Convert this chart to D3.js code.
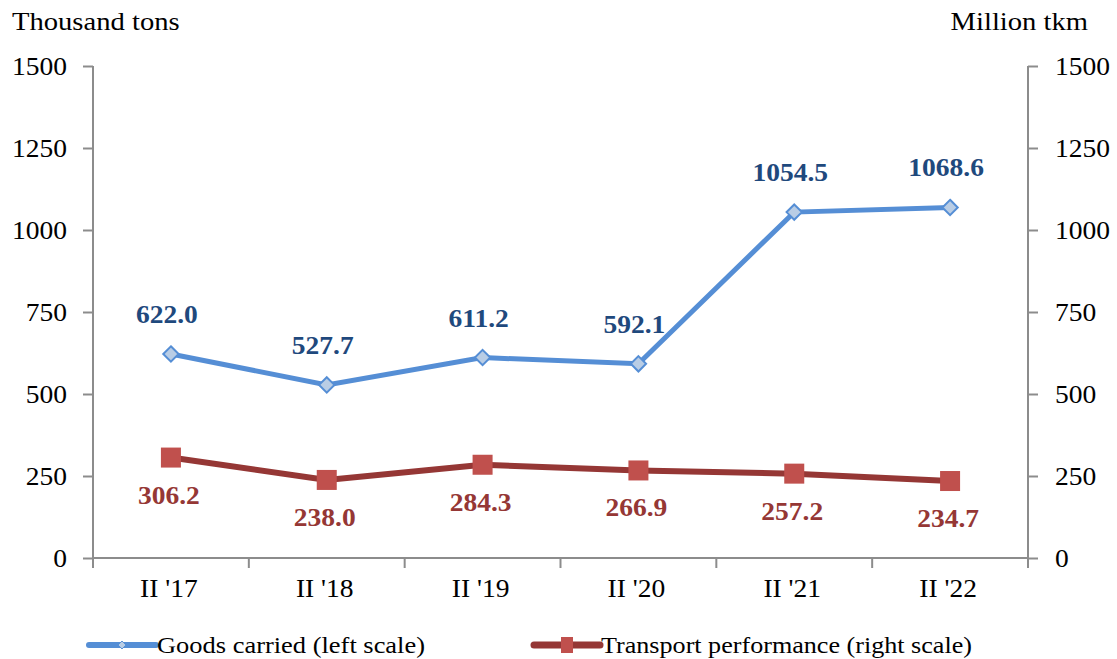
<!DOCTYPE html>
<html>
<head>
<meta charset="utf-8">
<script src="https://cdn.jsdelivr.net/npm/d3@7"></script>
<style>
  body { margin: 0; background: #fff; }
  text { font-family: "Liberation Serif", "Times New Roman", serif; }
</style>
</head>
<body>
<div id="chart"></div>
<script>
const categories = ["II '17", "II '18", "II '19", "II '20", "II '21", "II '22"];
const goodsCarried = [622.0, 527.7, 611.2, 592.1, 1054.5, 1068.6];
const transportPerf = [306.2, 238.0, 284.3, 266.9, 257.2, 234.7];
const yTicks = [0, 250, 500, 750, 1000, 1250, 1500];

const W = 1117, H = 659;
const mLeft = 93, mRight = 1028, mTop = 66, mBottom = 558;
const stretch = 1.1; // the original fonts are a bit wider than Liberation Serif

const svg = d3.select('#chart').append('svg')
    .attr('width', W).attr('height', H);

const x = d3.scaleBand().domain(categories).range([mLeft, mRight]);
const yL = d3.scaleLinear().domain([0, 1500]).range([mBottom, mTop]);
const yR = d3.scaleLinear().domain([0, 1500]).range([mBottom, mTop]);
const cx = d => x(d) + x.bandwidth() / 2;

const axisColor = '#8c8c8c';

// place a text with a horizontal stretch
function putText(sel, fx, fy) {
    sel.attr('x', 0).attr('y', 0)
       .attr('transform', (d, i) => 'translate(' + fx(d, i) + ',' + fy(d, i) + ') scale(' + stretch + ',1)');
}

// axes
const gL = svg.append('g').attr('transform', 'translate(' + mLeft + ',0)')
    .call(d3.axisLeft(yL).tickValues(yTicks).tickFormat(d3.format('d')).tickSize(10));
const gR = svg.append('g').attr('transform', 'translate(' + mRight + ',0)')
    .call(d3.axisRight(yR).tickValues(yTicks).tickFormat(d3.format('d')).tickSize(10));
[gL, gR].forEach((g, k) => {
    g.select('.domain').attr('stroke', axisColor).attr('stroke-width', 2)
        .attr('d', 'M0,' + mTop + 'V' + mBottom);
    g.selectAll('.tick line').attr('stroke', axisColor).attr('stroke-width', 2);
    g.selectAll('.tick text').attr('font-size', 25).attr('fill', '#000')
        .style('font-family', '"Liberation Serif", serif')
        .call(putText, () => k === 0 ? -26 : 27, () => 0)
        .attr('dy', '0.34em');
});

// x axis, ticks between categories
const gX = svg.append('g');
gX.append('line').attr('x1', mLeft).attr('x2', mRight).attr('y1', mBottom).attr('y2', mBottom)
    .attr('stroke', axisColor).attr('stroke-width', 2);
const bounds = categories.map(c => x(c)).concat([mRight]);
gX.selectAll('line.tk').data(bounds).join('line').attr('class', 'tk')
    .attr('x1', d => d).attr('x2', d => d).attr('y1', mBottom).attr('y2', mBottom + 10)
    .attr('stroke', axisColor).attr('stroke-width', 2);
gX.selectAll('text').data(categories).join('text')
    .attr('text-anchor', 'middle').attr('font-size', 25).text(d => d)
    .call(putText, d => cx(d) - 2, () => 597);

// axis titles
svg.append('text').attr('font-size', 26).text('Thousand tons')
    .call(putText, () => 12, () => 30);
svg.append('text').attr('font-size', 26).attr('text-anchor', 'end').text('Million tkm')
    .call(putText, () => 1088, () => 30);

// transport performance (right scale)
const lineR = d3.line().x((d, i) => cx(categories[i])).y(d => yR(d));
svg.append('path').datum(transportPerf).attr('d', lineR)
    .attr('fill', 'none').attr('stroke', '#953735').attr('stroke-width', 6);
svg.selectAll('rect.mk').data(transportPerf).join('rect').attr('class', 'mk')
    .attr('x', (d, i) => cx(categories[i]) - 10).attr('y', d => yR(d) - 10)
    .attr('width', 20).attr('height', 20).attr('fill', '#C0504D');
svg.selectAll('text.lr').data(transportPerf).join('text').attr('class', 'lr')
    .attr('text-anchor', 'middle').attr('font-size', 25).attr('font-weight', 'bold')
    .attr('fill', '#953735').text(d => d.toFixed(1))
    .call(putText, (d, i) => cx(categories[i]) - 2, d => yR(d) + 46);

// goods carried (left scale)
const lineL = d3.line().x((d, i) => cx(categories[i])).y(d => yL(d));
svg.append('path').datum(goodsCarried).attr('d', lineL)
    .attr('fill', 'none').attr('stroke', '#558ED5').attr('stroke-width', 5);
const diamond = d3.symbol().type(d3.symbolDiamond2).size(150);
svg.selectAll('path.dm').data(goodsCarried).join('path').attr('class', 'dm')
    .attr('transform', (d, i) => 'translate(' + cx(categories[i]) + ',' + yL(d) + ')')
    .attr('d', diamond).attr('fill', '#B9CDE5').attr('stroke', '#558ED5').attr('stroke-width', 2);
svg.selectAll('text.ll').data(goodsCarried).join('text').attr('class', 'll')
    .attr('text-anchor', 'middle').attr('font-size', 25).attr('font-weight', 'bold')
    .attr('fill', '#1F497D').text(d => d.toFixed(1))
    .call(putText, (d, i) => cx(categories[i]) - 4, d => yL(d) - 31);

// legend
const legend = svg.append('g').attr('transform', 'translate(0,645)');
legend.append('line').attr('x1', 89).attr('x2', 156).attr('y1', 0).attr('y2', 0)
    .attr('stroke', '#558ED5').attr('stroke-width', 6).attr('stroke-linecap', 'round');
legend.append('path').attr('transform', 'translate(122,0)')
    .attr('d', d3.symbol().type(d3.symbolDiamond2).size(40))
    .attr('fill', '#B9CDE5').attr('stroke', '#558ED5').attr('stroke-width', 1);
legend.append('text').attr('x', 157).attr('y', 8).attr('font-size', 23)
    .attr('textLength', 268).attr('lengthAdjust', 'spacingAndGlyphs')
    .text('Goods carried (left scale)');
legend.append('line').attr('x1', 534).attr('x2', 600).attr('y1', 0).attr('y2', 0)
    .attr('stroke', '#953735').attr('stroke-width', 7).attr('stroke-linecap', 'round');
legend.append('rect').attr('x', 561).attr('y', -8).attr('width', 12).attr('height', 16)
    .attr('fill', '#C0504D');
legend.append('text').attr('x', 601).attr('y', 8).attr('font-size', 23)
    .attr('textLength', 371).attr('lengthAdjust', 'spacingAndGlyphs')
    .text('Transport performance (right scale)');
</script>
</body>
</html>
